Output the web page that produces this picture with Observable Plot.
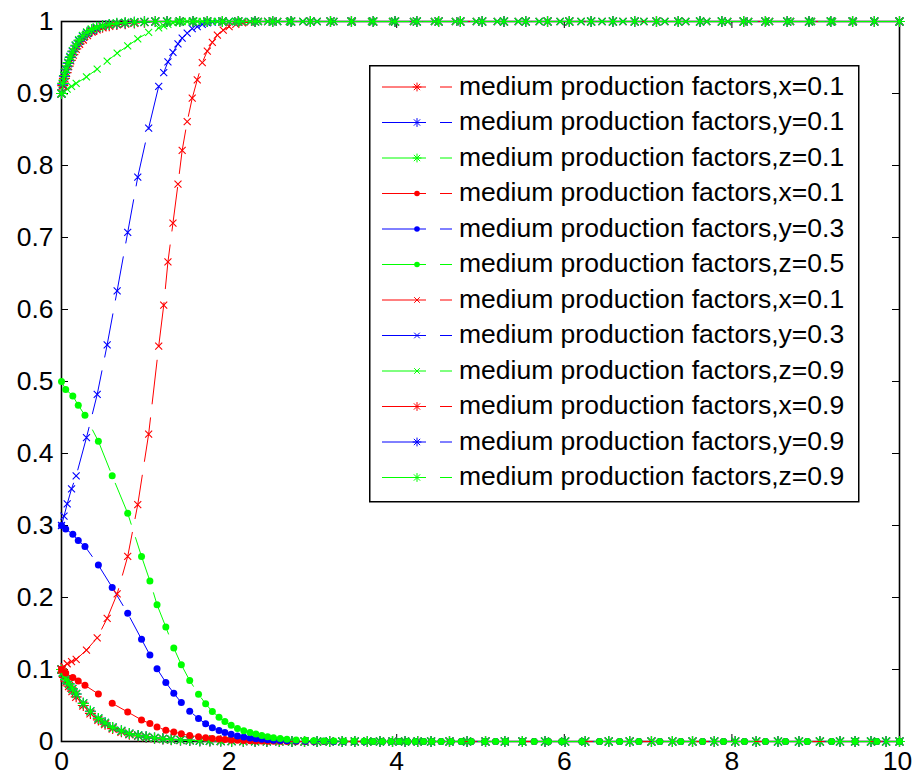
<!DOCTYPE html>
<html><head><meta charset="utf-8">
<script src="https://cdn.jsdelivr.net/npm/d3@7"></script>
<script src="https://cdn.jsdelivr.net/npm/@observablehq/plot@0.6"></script>
<style>
body{margin:0;background:#fff;}
#wrap{position:relative;width:912px;height:775px;font-family:"Liberation Sans",Arial,sans-serif;}
#legend{position:absolute;left:369px;top:65px;}
</style></head><body><div id="wrap"></div>
<script>
// ---- axis ticks ----
const xTicks = [0, 2, 4, 6, 8, 10];
const yTicks = [0, 0.1, 0.2, 0.3, 0.4, 0.5, 0.6, 0.7, 0.8, 0.9, 1];

// ---- group A: "*" markers, x=y=z=0.1 (decay) ----
const tA = [0, 0.015, 0.035, 0.06, 0.09, 0.13, 0.175, 0.26, 0.345, 0.44,
  0.52, 0.61, 0.715, 0.81, 0.915, 1.01, 1.11, 1.21, 1.31, 1.42,
  1.53, 1.65, 1.77, 1.90, 2.03, 2.17, 2.31, 2.45, 2.60, 2.75,
  2.90, 3.05, 3.20, 3.35, 3.50, 3.65, 3.80, 3.95, 4.10, 4.25,
  4.41, 4.63, 4.84, 5.06, 5.29, 5.50, 5.77, 6.01, 6.25, 6.53,
  6.78, 7.04, 7.29, 7.53, 7.79, 8.04, 8.29, 8.55, 8.80, 9.05,
  9.29, 9.47, 9.66, 9.84, 10];
const xA = [0.1, 0.095, 0.089, 0.083, 0.077, 0.070, 0.062, 0.050, 0.039, 0.030,
  0.024, 0.018, 0.0135, 0.010, 0.0077, 0.0059, 0.0045, 0.0034, 0.0026, 0.002,
  0.0015, 0.0011, 0.0008, 0.0006, 0.0004, 0.0003, 0.0002, 0.0001, 0, 0,
  0, 0, 0, 0, 0, 0, 0, 0, 0, 0,
  0, 0, 0, 0, 0, 0, 0, 0, 0, 0,
  0, 0, 0, 0, 0, 0, 0, 0, 0, 0,
  0, 0, 0, 0, 0];
const yA = [0.1, 0.096, 0.091, 0.086, 0.080, 0.073, 0.066, 0.053, 0.042, 0.032,
  0.026, 0.0195, 0.0148, 0.011, 0.0085, 0.0065, 0.005, 0.0038, 0.0029, 0.0022,
  0.0017, 0.0012, 0.0009, 0.0007, 0.0005, 0.0004, 0.0003, 0.0002, 0.0001, 0,
  0, 0, 0, 0, 0, 0, 0, 0, 0, 0,
  0, 0, 0, 0, 0, 0, 0, 0, 0, 0,
  0, 0, 0, 0, 0, 0, 0, 0, 0, 0,
  0, 0, 0, 0, 0];
const zA = [0.1, 0.096, 0.091, 0.086, 0.080, 0.073, 0.066, 0.053, 0.042, 0.032,
  0.026, 0.0195, 0.0148, 0.011, 0.0085, 0.0065, 0.005, 0.0038, 0.0029, 0.0022,
  0.0017, 0.0012, 0.0009, 0.0007, 0.0005, 0.0004, 0.0003, 0.0002, 0.0001, 0,
  0, 0, 0, 0, 0, 0, 0, 0, 0, 0,
  0, 0, 0, 0, 0, 0, 0, 0, 0, 0,
  0, 0, 0, 0, 0, 0, 0, 0, 0, 0,
  0, 0, 0, 0, 0];

// ---- group D: "." markers, x=0.1, y=0.3, z=0.5 (decay) ----
const tD = [0, 0.05, 0.135, 0.2, 0.28, 0.44, 0.605, 0.79, 0.955, 1.055,
  1.14, 1.245, 1.34, 1.43, 1.53, 1.635, 1.72, 1.80, 1.88, 1.95,
  2.025, 2.10, 2.175, 2.25, 2.32, 2.39, 2.46, 2.53, 2.61, 2.69,
  2.80, 2.91, 3.01, 3.13, 3.25, 3.37, 3.49, 3.61, 3.72, 3.83,
  3.93, 4.03, 4.13, 4.22, 4.32, 4.42, 4.53, 4.65, 4.77, 4.89,
  5.05, 5.18, 5.30, 5.50, 5.64, 5.81, 5.97, 6.21, 6.42, 6.66,
  6.89, 7.14, 7.39, 7.65, 7.90, 8.15, 8.40, 8.64, 8.90, 9.19,
  9.47, 9.73, 10];
const xD = [0.1, 0.095, 0.089, 0.084, 0.078, 0.066, 0.053, 0.041, 0.030, 0.025,
  0.020, 0.0157, 0.0132, 0.0107, 0.0083, 0.0066, 0.0053, 0.0042, 0.0034, 0.0028,
  0.0022, 0.0017, 0.0013, 0.0010, 0.0008, 0.0006, 0.0004, 0.0003, 0.0002, 0.0001,
  0, 0, 0, 0, 0, 0, 0, 0, 0, 0,
  0, 0, 0, 0, 0, 0, 0, 0, 0, 0,
  0, 0, 0, 0, 0, 0, 0, 0, 0, 0,
  0, 0, 0, 0, 0, 0, 0, 0, 0, 0,
  0, 0, 0];
const yD = [0.3, 0.295, 0.288, 0.279, 0.271, 0.245, 0.214, 0.178, 0.142, 0.120,
  0.101, 0.082, 0.067, 0.054, 0.042, 0.032, 0.0245, 0.019, 0.0153, 0.0125,
  0.0100, 0.0078, 0.0062, 0.0049, 0.0039, 0.0031, 0.0024, 0.0019, 0.0014, 0.0010,
  0.0007, 0.0005, 0.0003, 0.0002, 0.0001, 0, 0, 0, 0, 0,
  0, 0, 0, 0, 0, 0, 0, 0, 0, 0,
  0, 0, 0, 0, 0, 0, 0, 0, 0, 0,
  0, 0, 0, 0, 0, 0, 0, 0, 0, 0,
  0, 0, 0];
const zD = [0.5, 0.489, 0.480, 0.467, 0.453, 0.417, 0.369, 0.317, 0.257, 0.223,
  0.190, 0.159, 0.130, 0.1065, 0.0847, 0.0657, 0.0523, 0.0417, 0.0338, 0.0278,
  0.0227, 0.0180, 0.0150, 0.0125, 0.0105, 0.0085, 0.0066, 0.0052, 0.0041, 0.0031,
  0.0022, 0.0016, 0.0011, 0.0008, 0.0006, 0.0004, 0.0003, 0.0002, 0.0001, 0,
  0, 0, 0, 0, 0, 0, 0, 0, 0, 0,
  0, 0, 0, 0, 0, 0, 0, 0, 0, 0,
  0, 0, 0, 0, 0, 0, 0, 0, 0, 0,
  0, 0, 0];

// ---- group C: "x" markers, x=0.1, y=0.3, z=0.9 (rise) ----
const tC = [0, 0.03, 0.068, 0.12, 0.175, 0.298, 0.426, 0.545, 0.664, 0.79,
  0.91, 1.04, 1.16, 1.22, 1.27, 1.33, 1.39, 1.44, 1.50, 1.56,
  1.62, 1.68, 1.74, 1.80, 1.86, 1.93, 2.00, 2.08, 2.16, 2.25,
  2.35, 2.46, 2.58, 2.72, 2.88, 3.05, 3.25, 3.47, 3.70, 3.95,
  4.20, 4.45, 4.70, 4.95, 5.20, 5.45, 5.70, 5.95, 6.20, 6.45,
  6.70, 6.95, 7.20, 7.45, 7.70, 7.95, 8.20, 8.45, 8.70, 8.95,
  9.20, 9.45, 9.70, 10];
const xC = [0.1, 0.104, 0.108, 0.111, 0.114, 0.127, 0.144, 0.171, 0.205, 0.257,
  0.329, 0.427, 0.549, 0.606, 0.666, 0.720, 0.774, 0.821, 0.861, 0.8935,
  0.919, 0.943, 0.959, 0.971, 0.981, 0.988, 0.993, 0.996, 0.998, 0.999,
  1, 1, 1, 1, 1, 1, 1, 1, 1, 1,
  1, 1, 1, 1, 1, 1, 1, 1, 1, 1,
  1, 1, 1, 1, 1, 1, 1, 1, 1, 1,
  1, 1, 1, 1];
const yC = [0.3, 0.313, 0.330, 0.351, 0.369, 0.422, 0.482, 0.551, 0.626, 0.707,
  0.784, 0.852, 0.910, 0.929, 0.944, 0.957, 0.969, 0.977, 0.984, 0.990,
  0.993, 0.996, 0.998, 0.999, 1, 1, 1, 1, 1, 1,
  1, 1, 1, 1, 1, 1, 1, 1, 1, 1,
  1, 1, 1, 1, 1, 1, 1, 1, 1, 1,
  1, 1, 1, 1, 1, 1, 1, 1, 1, 1,
  1, 1, 1, 1];
const zC = [0.9, 0.903, 0.906, 0.910, 0.914, 0.923, 0.934, 0.945, 0.956, 0.966,
  0.976, 0.985, 0.991, 0.994, 0.996, 0.998, 0.999, 1, 1, 1,
  1, 1, 1, 1, 1, 1, 1, 1, 1, 1,
  1, 1, 1, 1, 1, 1, 1, 1, 1, 1,
  1, 1, 1, 1, 1, 1, 1, 1, 1, 1,
  1, 1, 1, 1, 1, 1, 1, 1, 1, 1,
  1, 1, 1, 1];

// ---- group B: "*" markers, x=y=z=0.9 (rise) ----
const tB = [0, 0.015, 0.035, 0.055, 0.08, 0.105, 0.135, 0.17, 0.21, 0.255,
  0.305, 0.36, 0.42, 0.49, 0.57, 0.66, 0.76, 0.87, 0.99, 1.12,
  1.26, 1.41, 1.57, 1.74, 1.92, 2.11, 2.31, 2.52, 2.74, 2.97,
  3.21, 3.46, 3.72, 3.98, 4.24, 4.50, 4.76, 5.02, 5.28, 5.54,
  5.80, 6.06, 6.32, 6.58, 6.84, 7.10, 7.36, 7.62, 7.88, 8.14,
  8.40, 8.66, 8.92, 9.18, 9.44, 9.70, 10];
const xB = [0.9, 0.911, 0.921, 0.929, 0.938, 0.946, 0.954, 0.962, 0.969, 0.975,
  0.981, 0.986, 0.989, 0.992, 0.994, 0.996, 0.997, 0.998, 0.999, 1,
  1, 1, 1, 1, 1, 1, 1, 1, 1, 1,
  1, 1, 1, 1, 1, 1, 1, 1, 1, 1,
  1, 1, 1, 1, 1, 1, 1, 1, 1, 1,
  1, 1, 1, 1, 1, 1, 1];
const yB = [0.9, 0.913, 0.924, 0.933, 0.942, 0.950, 0.958, 0.966, 0.973, 0.979,
  0.984, 0.988, 0.991, 0.994, 0.996, 0.997, 0.998, 0.999, 0.9995, 1,
  1, 1, 1, 1, 1, 1, 1, 1, 1, 1,
  1, 1, 1, 1, 1, 1, 1, 1, 1, 1,
  1, 1, 1, 1, 1, 1, 1, 1, 1, 1,
  1, 1, 1, 1, 1, 1, 1];
const zB = [0.9, 0.914, 0.925, 0.934, 0.943, 0.951, 0.959, 0.967, 0.974, 0.980,
  0.985, 0.989, 0.992, 0.994, 0.996, 0.9975, 0.9985, 0.999, 0.9995, 1,
  1, 1, 1, 1, 1, 1, 1, 1, 1, 1,
  1, 1, 1, 1, 1, 1, 1, 1, 1, 1,
  1, 1, 1, 1, 1, 1, 1, 1, 1, 1,
  1, 1, 1, 1, 1, 1, 1];

// ---- legend labels (plot order) ----
const labels = [
  "medium production factors,x=0.1", "medium production factors,y=0.1", "medium production factors,z=0.1",
  "medium production factors,x=0.1", "medium production factors,y=0.3", "medium production factors,z=0.5",
  "medium production factors,x=0.1", "medium production factors,y=0.3", "medium production factors,z=0.9",
  "medium production factors,x=0.9", "medium production factors,y=0.9", "medium production factors,z=0.9"
];
const RED = "#ff0000", BLUE = "#0000ff", GREEN = "#00ff00";

// ---- marker shapes (MATLAB-like) ----
const asterisk8 = {draw(ctx, size) {
  const r = Math.sqrt(size / Math.PI), d = r * 0.72;
  ctx.moveTo(0, -r); ctx.lineTo(0, r);
  ctx.moveTo(-r, 0); ctx.lineTo(r, 0);
  ctx.moveTo(-d, -d); ctx.lineTo(d, d);
  ctx.moveTo(-d, d); ctx.lineTo(d, -d);
}};
const cross = {draw(ctx, size) {
  const r = Math.sqrt(size / Math.PI);
  ctx.moveTo(-r, -r); ctx.lineTo(r, r);
  ctx.moveTo(-r, r); ctx.lineTo(r, -r);
}};
const markers = {
  star: {symbol: asterisk8, r: 5.5, filled: false, sw: 1.2},
  dot: {symbol: "circle", r: 3.5, filled: true, sw: 0},
  x: {symbol: cross, r: 3.5, filled: false, sw: 1.1}
};

const series = [
  {t: tA, v: xA, c: RED, m: "star"}, {t: tA, v: yA, c: BLUE, m: "star"}, {t: tA, v: zA, c: GREEN, m: "star"},
  {t: tD, v: xD, c: RED, m: "dot"}, {t: tD, v: yD, c: BLUE, m: "dot"}, {t: tD, v: zD, c: GREEN, m: "dot"},
  {t: tC, v: xC, c: RED, m: "x"}, {t: tC, v: yC, c: BLUE, m: "x"}, {t: tC, v: zC, c: GREEN, m: "x"},
  {t: tB, v: xB, c: RED, m: "star"}, {t: tB, v: yB, c: BLUE, m: "star"}, {t: tB, v: zB, c: GREEN, m: "star"}
].map((s, i) => ({...s, label: labels[i]}));

const DASH = "44,14";
const W = 912, H = 775, ML = 61, MR = 13, MT = 21, MB = 34;
const PW = W - ML - MR, PH = H - MT - MB, TK = 7;
const FONT = "'Liberation Sans', Arial, sans-serif";

function markOpts(s) {
  const mk = markers[s.m];
  return mk.filled
    ? {x: "t", y: "v", symbol: mk.symbol, r: mk.r, fill: s.c, stroke: "none"}
    : {x: "t", y: "v", symbol: mk.symbol, r: mk.r, fill: "none", stroke: s.c, strokeWidth: mk.sw};
}

const seriesMarks = series.flatMap(s => {
  const rows = s.t.map((t, j) => ({t, v: s.v[j]}));
  return [
    Plot.line(rows, {x: "t", y: "v", stroke: s.c, strokeWidth: 1, strokeDasharray: DASH}),
    Plot.dot(rows, markOpts(s))
  ];
});

const axisXOpts = {tickSize: 0, tickPadding: 10, tickFormat: d => String(d), label: null};

const chart = Plot.plot({
  width: W, height: H,
  marginLeft: ML, marginRight: MR, marginTop: MT, marginBottom: MB,
  style: {fontFamily: FONT, fontSize: "26.5px", color: "#000", background: "#fff", overflow: "visible"},
  x: {domain: [0, 10]},
  y: {domain: [0, 1]},
  marks: [
    Plot.axisY(yTicks, {tickSize: 0, tickPadding: 8, tickFormat: d => String(d), label: null}),
    Plot.axisX(xTicks.slice(0, -1), axisXOpts),
    Plot.axisX(xTicks.slice(-1), {...axisXOpts, dx: -2}),
    Plot.frame({stroke: "#000", strokeWidth: 1.6}),
    Plot.tickY(yTicks, {y: d => d, insetRight: PW - TK, stroke: "#000", strokeWidth: 1}),
    Plot.tickY(yTicks, {y: d => d, insetLeft: PW - TK, stroke: "#000", strokeWidth: 1}),
    Plot.tickX(xTicks, {x: d => d, insetTop: PH - TK, stroke: "#000", strokeWidth: 1}),
    Plot.tickX(xTicks, {x: d => d, insetBottom: PH - TK, stroke: "#000", strokeWidth: 1}),
    ...seriesMarks
  ]
});
const wrap = document.getElementById("wrap");
wrap.appendChild(chart);

// ---- legend box inside the axes ----
const LW = 489, LH = 436, ROW = 35.5;
const leg = d3.select(wrap).append("svg").attr("id", "legend")
  .attr("width", LW + 2).attr("height", LH + 2)
  .style("font-family", FONT);
leg.append("rect").attr("x", 0.75).attr("y", 0.75).attr("width", LW).attr("height", LH)
  .attr("fill", "#fff").attr("stroke", "#000").attr("stroke-width", 1.5);
series.forEach((s, i) => {
  const cy = 22 + ROW * i;
  const g = leg.append("g");
  g.append("line").attr("x1", 13).attr("x2", 83).attr("y1", cy).attr("y2", cy)
    .attr("stroke", s.c).attr("stroke-width", 1).attr("stroke-dasharray", DASH);
  const mk = markers[s.m];
  const sym = typeof mk.symbol === "string" ? d3.symbolCircle : mk.symbol;
  const lr = mk.r * 0.8;
  g.append("path").attr("transform", `translate(48,${cy})`)
    .attr("d", d3.symbol(sym, Math.PI * lr * lr)())
    .attr("fill", mk.filled ? s.c : "none").attr("stroke", mk.filled ? "none" : s.c).attr("stroke-width", 1);
  g.append("text").attr("x", 90).attr("y", cy + 7.5).attr("font-size", 26.5).attr("fill", "#000").text(s.label);
});
</script></body></html>
